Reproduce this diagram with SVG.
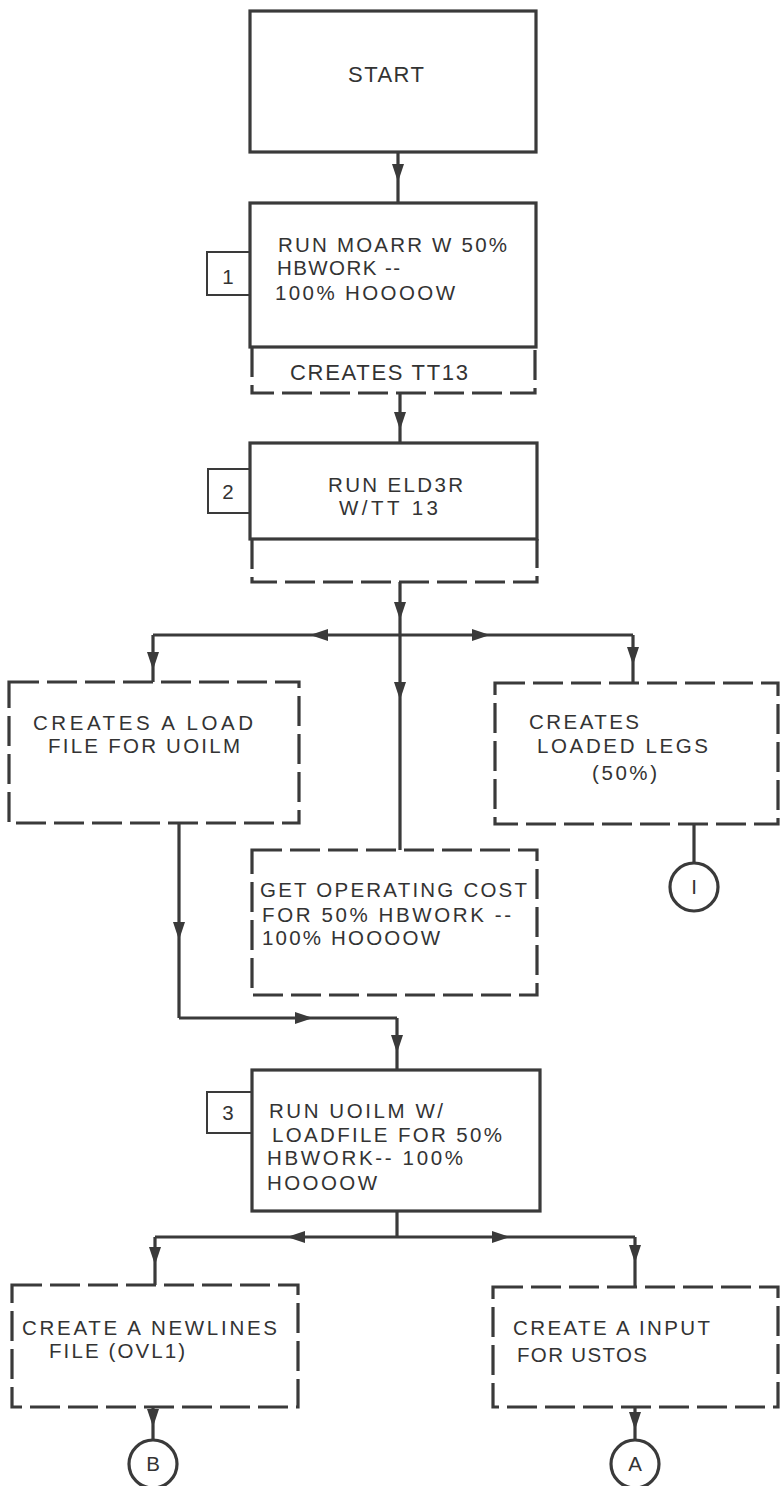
<svg xmlns="http://www.w3.org/2000/svg" width="780" height="1486" viewBox="0 0 780 1486">
<style>
.box{fill:none;stroke:#3a3a3a;stroke-width:3.2}
.dash{fill:none;stroke:#3a3a3a;stroke-width:3.2;stroke-dasharray:30 8}
.lbl{fill:none;stroke:#3a3a3a;stroke-width:2}
.con{fill:none;stroke:#3a3a3a;stroke-width:3.2;marker-mid:url(#ah)}
.plain{fill:none;stroke:#3a3a3a;stroke-width:3.2}
text{font-family:"Liberation Sans",Arial,sans-serif;font-size:20.5px;fill:#333}
.big{font-size:22px}
.c{text-anchor:middle}
</style>
<defs>
<marker id="ah" markerUnits="userSpaceOnUse" viewBox="0 0 18 12" markerWidth="18" markerHeight="12" refX="18" refY="6" orient="auto">
<path d="M0,0 L18,6 L0,12 z" fill="#3a3a3a"/>
</marker>
</defs>

<g id="connectors">
<path class="con" d="M398,152 L398,182 L398,203"/>
<path class="con" d="M400,393 L400,430 L400,443"/>
<path class="con" d="M400,582 L400,620 L400,635"/>
<path class="con" d="M400,635 L310,635 L153,635"/>
<path class="plain" d="M153,635 L153,650"/>
<path class="con" d="M153,650 L153,670 L153,682"/>
<path class="con" d="M400,635 L490,635 L633,635"/>
<path class="plain" d="M633,635 L633,645"/>
<path class="con" d="M633,645 L633,665 L633,683"/>
<path class="con" d="M400,635 L400,700 L400,850"/>
<path class="con" d="M179,823 L179,940 L179,1018"/>
<path class="con" d="M179,1018 L313,1018 L397,1018"/>
<path class="con" d="M397,1018 L397,1053 L397,1070"/>
<path class="plain" d="M397,1211 L397,1237"/>
<path class="con" d="M397,1237 L287,1237 L155,1237"/>
<path class="con" d="M155,1237 L155,1265 L155,1285"/>
<path class="con" d="M397,1237 L510,1237 L635,1237"/>
<path class="con" d="M635,1237 L635,1263 L635,1287"/>
<path class="con" d="M153,1407 L153,1427 L153,1440"/>
<path class="con" d="M635,1407 L635,1430 L635,1440"/>
<path class="plain" d="M694,824 L694,863"/>
</g>

<g id="start">
<rect class="box" x="250" y="11" width="286" height="141"/>
<text class="big" x="348" y="82" textLength="76" lengthAdjust="spacing">START</text>
</g>

<g id="step1">
<rect class="box" x="250" y="203" width="286" height="144"/>
<path class="dash" d="M252,347 V393 H535 V347"/>
<rect class="lbl" x="207" y="252" width="43" height="43"/>
<text class="c" x="228" y="284">1</text>
<text x="278" y="252" textLength="229" lengthAdjust="spacing">RUN MOARR W 50%</text>
<text x="277" y="275" textLength="123" lengthAdjust="spacing">HBWORK --</text>
<text x="275" y="300" textLength="180" lengthAdjust="spacing">100% HOOOOW</text>
<text class="big" x="290" y="380" textLength="178" lengthAdjust="spacing">CREATES TT13</text>
</g>

<g id="step2">
<rect class="box" x="250" y="443" width="287" height="96"/>
<path class="dash" d="M252,539 V582 H537 V539"/>
<rect class="lbl" x="208" y="469" width="42" height="44"/>
<text class="c" x="228" y="499">2</text>
<text x="328" y="492" textLength="135" lengthAdjust="spacing">RUN ELD3R</text>
<text x="339" y="515" textLength="99" lengthAdjust="spacing">W/TT 13</text>
</g>

<g id="loadfile">
<rect class="dash" x="9" y="682" width="290" height="141"/>
<text x="33" y="730" textLength="220" lengthAdjust="spacing">CREATES A LOAD</text>
<text x="48" y="753" textLength="192" lengthAdjust="spacing">FILE FOR UOILM</text>
</g>

<g id="loadedlegs">
<rect class="dash" x="495" y="683" width="283" height="141"/>
<text x="529" y="729" textLength="110" lengthAdjust="spacing">CREATES</text>
<text x="537" y="753" textLength="171" lengthAdjust="spacing">LOADED LEGS</text>
<text x="592" y="780" textLength="65" lengthAdjust="spacing">(50%)</text>
</g>

<g id="conn-i">
<circle class="plain" cx="694" cy="887" r="24"/>
<text class="c" x="694" y="894">I</text>
</g>

<g id="opcost">
<rect class="dash" x="252" y="850" width="285" height="145"/>
<text x="260" y="897" textLength="267" lengthAdjust="spacing">GET OPERATING COST</text>
<text x="262" y="922" textLength="249" lengthAdjust="spacing">FOR 50% HBWORK --</text>
<text x="262" y="945" textLength="178" lengthAdjust="spacing">100% HOOOOW</text>
</g>

<g id="step3">
<rect class="box" x="252" y="1070" width="288" height="141"/>
<rect class="lbl" x="207" y="1092" width="45" height="41"/>
<text class="c" x="228" y="1120">3</text>
<text x="269" y="1118" textLength="174" lengthAdjust="spacing">RUN UOILM W/</text>
<text x="272" y="1142" textLength="230" lengthAdjust="spacing">LOADFILE FOR 50%</text>
<text x="267" y="1165" textLength="196" lengthAdjust="spacing">HBWORK-- 100%</text>
<text x="267" y="1190" textLength="110" lengthAdjust="spacing">HOOOOW</text>
</g>

<g id="newlines">
<rect class="dash" x="12" y="1285" width="286" height="122"/>
<text x="22" y="1335" textLength="255" lengthAdjust="spacing">CREATE A NEWLINES</text>
<text x="49" y="1358" textLength="136" lengthAdjust="spacing">FILE (OVL1)</text>
</g>

<g id="input">
<rect class="dash" x="493" y="1287" width="285" height="120"/>
<text x="513" y="1335" textLength="197" lengthAdjust="spacing">CREATE A INPUT</text>
<text x="517" y="1362" textLength="130" lengthAdjust="spacing">FOR USTOS</text>
</g>

<g id="conn-b">
<circle class="plain" cx="153" cy="1464" r="24"/>
<text class="c" x="153" y="1471">B</text>
</g>

<g id="conn-a">
<circle class="plain" cx="635" cy="1464" r="24"/>
<text class="c" x="635" y="1471">A</text>
</g>
</svg>
